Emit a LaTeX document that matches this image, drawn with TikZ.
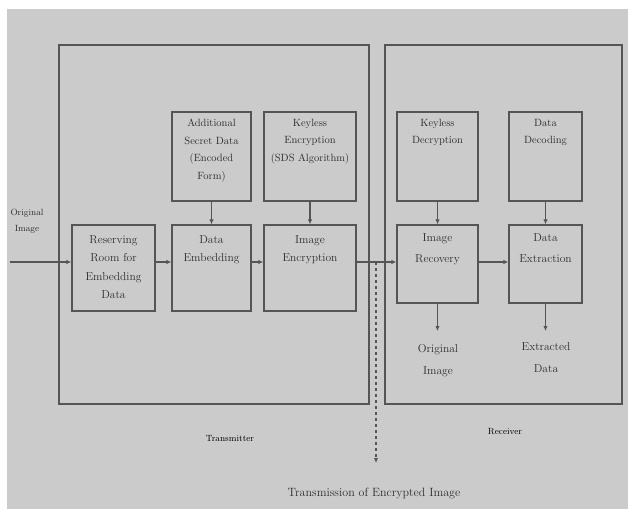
\documentclass[tikz,border=0pt]{standalone}
\usetikzlibrary{arrows.meta,positioning,calc}
\definecolor{bggray}{HTML}{CBCBCB}
\definecolor{linegray}{HTML}{555555}
\definecolor{txtgray}{HTML}{2E2E2E}
\begin{document}
\begin{tikzpicture}[x=1pt,y=-1pt,
  box/.style={draw=linegray,line width=1.3pt,inner sep=0pt,fill=none},
  txt/.style={text=txtgray,align=center,inner sep=0pt,font=\fontsize{11.5}{18.5}\selectfont},
  smalltxt/.style={text=txtgray,align=center,inner sep=0pt,font=\fontsize{10.5}{17.5}\selectfont},
  conn/.style={draw=linegray,line width=1.1pt,-{Latex[length=5pt,width=4.5pt]}},
  dashconn/.style={draw=linegray,line width=1.1pt,dashed,dash pattern=on 3pt off 3pt,-{Latex[length=5pt,width=4.5pt]}}
]
\useasboundingbox (0,0) rectangle (628,509);
\fill[white] (0,0) rectangle (628,509);
\fill[bggray] (7,9) rectangle (628,509);

% outer boxes
\node[box,minimum width=310pt,minimum height=359pt] (tx) at (214,224.5) {};
\node[box,minimum width=237pt,minimum height=359pt] (rx) at (503.5,224.5) {};

% transmitter boxes
\node[box,minimum width=83pt,minimum height=86pt] (reserve) at (113.5,268) {};
\node[box,minimum width=79pt,minimum height=86pt] (embed) at (211.5,268) {};
\node[box,minimum width=92pt,minimum height=86pt] (encrypt) at (310,268) {};
\node[box,minimum width=79pt,minimum height=89pt] (addl) at (211.5,156.5) {};
\node[box,minimum width=92pt,minimum height=89pt] (keyenc) at (310,156.5) {};

% receiver boxes
\node[box,minimum width=81pt,minimum height=89pt] (keydec) at (437.5,156.5) {};
\node[box,minimum width=73pt,minimum height=89pt] (decode) at (545.5,156.5) {};
\node[box,minimum width=81pt,minimum height=78pt] (recover) at (437.5,264) {};
\node[box,minimum width=73pt,minimum height=78pt] (extract) at (545.5,264) {};

% texts
\node[txt,anchor=north] (treserve) at (113.5,235) {Reserving\\Room for\\Embedding\\Data};
\node[txt,anchor=north] (tembed) at (211.5,235) {Data\\Embedding};
\node[txt,anchor=north] (tencrypt) at (310,235) {Image\\Encryption};
\node[smalltxt,anchor=north] (taddl) at (211.5,119) {Additional\\Secret Data\\(Encoded\\Form)};
\node[smalltxt,anchor=north] (tkeyenc) at (310,119) {Keyless\\Encryption\\(SDS Algorithm)};
\node[smalltxt,anchor=north] (tkeydec) at (437.5,119) {Keyless\\Decryption};
\node[smalltxt,anchor=north] (tdecode) at (545.5,119) {Data\\Decoding};
\node[txt,font=\fontsize{11.5}{21}\selectfont,anchor=north] (trecover) at (437.5,233) {Image\\Recovery};
\node[txt,font=\fontsize{11.5}{21}\selectfont,anchor=north] (textract) at (545.5,233) {Data\\Extraction};

\node[smalltxt,font=\fontsize{9}{16}\selectfont] (tin) at (27,221) {Original\\Image};
\node[txt,font=\fontsize{11.5}{22}\selectfont,anchor=north] (tout1) at (438,344) {Original\\Image};
\node[txt,font=\fontsize{11.5}{22}\selectfont,anchor=north] (tout2) at (546,342) {Extracted\\Data};
\node[smalltxt,text=black,font=\fontsize{9}{10}\selectfont] (ttx) at (230,438) {Transmitter};
\node[smalltxt,text=black,font=\fontsize{9}{10}\selectfont] (trx) at (505,432) {Receiver};
\node[txt,font=\fontsize{12}{13}\selectfont] (ttrans) at (374,493) {Transmission of Encrypted Image};

% coordinates
\coordinate (inp) at (10,262);
\coordinate (split) at (376,262);
\coordinate (transend) at (376,463);
\coordinate (out1) at (437.5,331);
\coordinate (out2) at (545.5,331);

% connectors
\draw[conn] (inp) -- ([yshift=6pt]reserve.west);
\draw[conn] ([yshift=6pt]reserve.east) -- ([yshift=6pt]embed.west);
\draw[conn] ([yshift=6pt]embed.east) -- ([yshift=6pt]encrypt.west);
\draw[conn] ([yshift=6pt]encrypt.east) -- ([yshift=2pt]recover.west);
\draw[conn] ([yshift=2pt]recover.east) -- ([yshift=2pt]extract.west);
\draw[dashconn] (split) -- (transend);
\draw[conn] (addl.south) -- (embed.north);
\draw[conn] (keyenc.south) -- (encrypt.north);
\draw[conn] (keydec.south) -- (recover.north);
\draw[conn] (decode.south) -- (extract.north);
\draw[conn] (recover.south) -- (out1);
\draw[conn] (extract.south) -- (out2);
\end{tikzpicture}
\end{document}
